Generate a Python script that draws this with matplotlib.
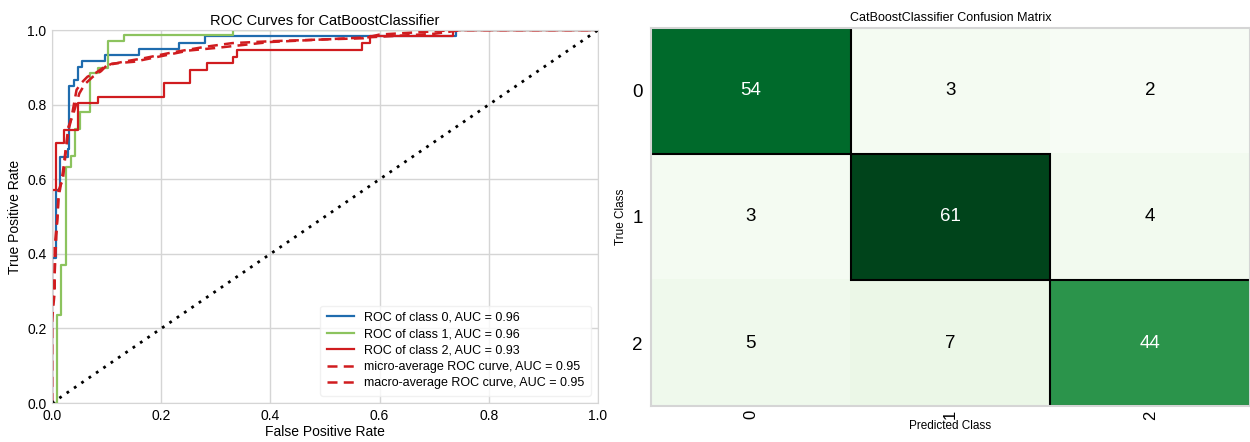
import matplotlib
matplotlib.use("Agg")
import matplotlib.pyplot as plt
from matplotlib.patches import Rectangle
import numpy as np

plt.rcParams['font.family'] = ['Liberation Sans', 'DejaVu Sans']

# ROC points (fpr, tpr)
fpr_0 = [0, 0, 0.008, 0.008, 0.015, 0.015, 0.03, 0.03, 0.032, 0.032, 0.04, 0.04, 0.048, 0.048, 0.055, 0.055,
         0.097, 0.097, 0.16, 0.16, 0.233, 0.233, 0.28, 0.28, 0.74, 0.74, 1.0]
tpr_0 = [0, 0.39, 0.39, 0.57, 0.57, 0.66, 0.66, 0.68, 0.68, 0.85, 0.85, 0.865, 0.865, 0.90, 0.90, 0.916,
         0.916, 0.933, 0.933, 0.949, 0.949, 0.966, 0.966, 0.983, 0.983, 1.0, 1.0]

fpr_1 = [0, 0.009, 0.009, 0.017, 0.017, 0.026, 0.026, 0.035, 0.035, 0.043, 0.043, 0.052, 0.052, 0.07, 0.07,
         0.085, 0.085, 0.102, 0.102, 0.131, 0.131, 0.331, 0.331, 1.0]
tpr_1 = [0, 0, 0.235, 0.235, 0.37, 0.37, 0.632, 0.632, 0.663, 0.663, 0.736, 0.736, 0.78, 0.78, 0.885,
         0.885, 0.897, 0.897, 0.97, 0.97, 0.987, 0.987, 1.0, 1.0]

fpr_2 = [0, 0, 0.007, 0.007, 0.022, 0.022, 0.047, 0.047, 0.085, 0.085, 0.205, 0.205, 0.252, 0.252, 0.283,
         0.283, 0.331, 0.331, 0.338, 0.338, 0.567, 0.567, 0.583, 0.583, 0.734, 0.734, 1.0]
tpr_2 = [0, 0.57, 0.57, 0.696, 0.696, 0.732, 0.732, 0.805, 0.805, 0.821, 0.821, 0.857, 0.857, 0.893, 0.893,
         0.912, 0.912, 0.929, 0.929, 0.946, 0.946, 0.964, 0.964, 0.983, 0.983, 1.0, 1.0]

fpr_micro = [0, 0, 0.005, 0.005, 0.01, 0.012, 0.02, 0.025, 0.03, 0.035, 0.04, 0.045, 0.055, 0.065, 0.08,
             0.095, 0.11, 0.15, 0.2, 0.25, 0.3, 0.35, 0.4, 0.5, 0.6, 0.7, 0.75, 1.0]
tpr_micro = [0, 0.22, 0.3, 0.42, 0.5, 0.57, 0.6, 0.67, 0.73, 0.76, 0.8, 0.84, 0.86, 0.875, 0.885,
             0.9, 0.91, 0.915, 0.93, 0.945, 0.952, 0.96, 0.968, 0.975, 0.982, 0.99, 1.0, 1.0]

fpr_macro = [0, 0, 0.005, 0.008, 0.012, 0.02, 0.025, 0.03, 0.04, 0.05, 0.06, 0.075, 0.09, 0.1, 0.13,
             0.17, 0.22, 0.28, 0.33, 0.4, 0.5, 0.57, 0.6, 0.74, 1.0]
tpr_macro = [0, 0.25, 0.35, 0.45, 0.55, 0.62, 0.68, 0.74, 0.78, 0.83, 0.855, 0.875, 0.89, 0.905, 0.915,
             0.925, 0.94, 0.955, 0.965, 0.97, 0.975, 0.978, 0.988, 1.0, 1.0]

roc_labels = ["ROC of class 0, AUC = 0.96", "ROC of class 1, AUC = 0.96", "ROC of class 2, AUC = 0.93",
              "micro-average ROC curve, AUC = 0.95", "macro-average ROC curve, AUC = 0.95"]

classes = ["0", "1", "2"]
conf_matrix = [[54, 3, 2],
               [3, 61, 4],
               [5, 7, 44]]

blue = "#1f6cae"
green = "#8cc35e"
red = "#d01c1f"
gridc = "#d5d5d5"

fig = plt.figure(figsize=(12.5, 4.42), dpi=100)

# --- ROC curves
ax1 = fig.add_axes([0.0416, 0.088, 0.4368, 0.844])
ax1.plot(fpr_0, tpr_0, color=blue, lw=1.6, label=roc_labels[0])
ax1.plot(fpr_1, tpr_1, color=green, lw=1.6, label=roc_labels[1])
ax1.plot(fpr_2, tpr_2, color=red, lw=1.6, label=roc_labels[2])
ax1.plot(fpr_micro, tpr_micro, color=red, lw=1.8, ls=(0, (4, 2.5)), label=roc_labels[3])
ax1.plot(fpr_macro, tpr_macro, color=red, lw=1.8, ls=(0, (4, 2.5)), label=roc_labels[4])
ax1.plot([0, 1], [0, 1], color="black", ls=(0, (1, 2.2)), lw=2)
ax1.set_xlim(0, 1)
ax1.set_ylim(0, 1)
ax1.set_xticks(np.arange(0, 1.01, 0.2))
ax1.set_yticks(np.arange(0, 1.01, 0.2))
ax1.grid(True, color=gridc, lw=1)
ax1.set_axisbelow(True)
for s in ax1.spines.values():
    s.set_color(gridc)
ax1.tick_params(length=0, labelsize=10, pad=4)
ax1.set_title("ROC Curves for CatBoostClassifier", fontsize=10.5, pad=4)
ax1.set_xlabel("False Positive Rate", fontsize=10, labelpad=2)
ax1.set_ylabel("True Positive Rate", fontsize=10, labelpad=4)
leg = ax1.legend(loc="lower right", fontsize=9, frameon=True, borderpad=0.5, handlelength=2.2,
                 labelspacing=0.35, borderaxespad=0.6)
leg.get_frame().set_edgecolor("#eeeeee")

# --- Confusion matrix
ax2 = fig.add_axes([0.5208, 0.0814, 0.4792, 0.8553])
cm = np.array(conf_matrix)
n = len(classes)
ax2.imshow(cm, cmap="Greens", vmin=cm.min(), vmax=cm.max(), aspect="auto", extent=(0, n, n, 0))
for i in range(n):
    for j in range(n):
        v = cm[i, j]
        tc = "white" if v > cm.max() * 0.5 else "black"
        ax2.text(j + 0.5, i + 0.5, str(v), ha="center", va="center", fontsize=13.5, color=tc)
    ax2.add_patch(Rectangle((i, i), 1, 1, fill=False, edgecolor="black", lw=1.5))
ax2.set_xlim(0, n)
ax2.set_ylim(n, 0)
ax2.set_xticks(np.arange(n) + 0.5)
ax2.set_xticklabels(classes, rotation=90, fontsize=12)
ax2.set_yticks(np.arange(n) + 0.5)
ax2.set_yticklabels(classes, fontsize=13.5)
ax2.tick_params(axis="y", length=0, pad=6)
ax2.tick_params(axis="x", length=0, pad=3)
ax2.grid(False)
for s in ax2.spines.values():
    s.set_color(gridc)
    s.set_linewidth(1.5)
ax2.set_title("CatBoostClassifier Confusion Matrix", fontsize=9, pad=5)
ax2.set_xlabel("Predicted Class", fontsize=8.5, labelpad=0)
ax2.set_ylabel("True Class", fontsize=8.5, labelpad=4)

fig.savefig("out.png", dpi=100)
